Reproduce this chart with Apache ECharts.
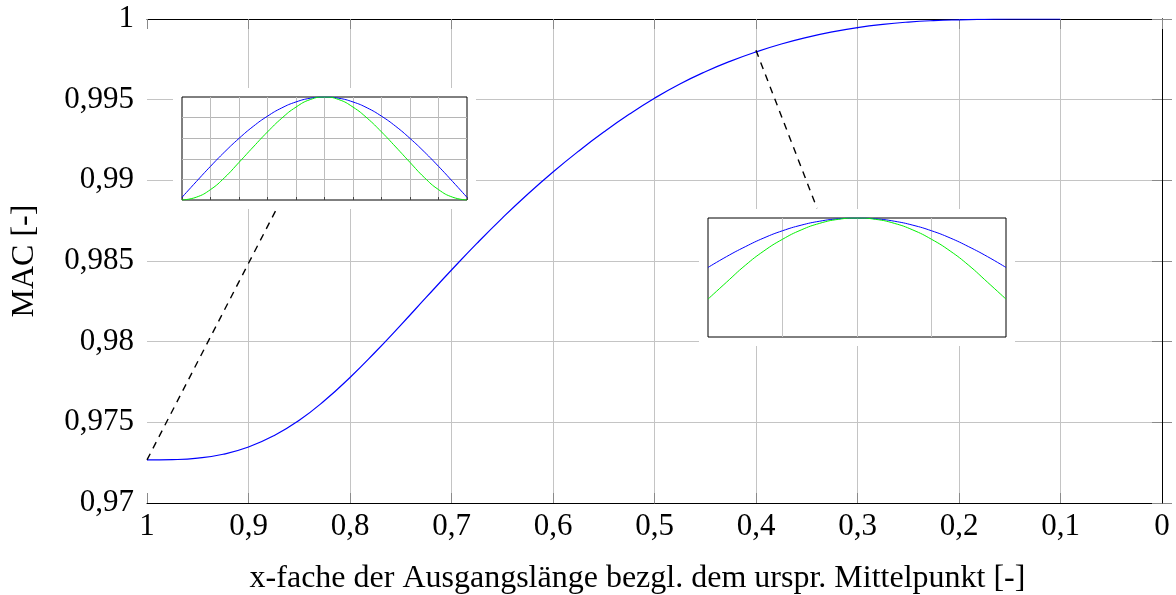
<!DOCTYPE html>
<html>
<head>
<meta charset="utf-8">
<script src="https://cdn.jsdelivr.net/npm/echarts@6/dist/echarts.min.js"></script>
<style>
  html, body { margin: 0; padding: 0; background: #fff; }
  #chart { width: 1176px; height: 595px; }
</style>
</head>
<body>
<div id="chart"></div>
<script>
// MAC über x-fache der Ausgangslänge
const xFactor = [1.0, 0.975, 0.95, 0.925, 0.9, 0.875, 0.85, 0.825, 0.8, 0.775, 0.75, 0.725, 0.7, 0.675, 0.65, 0.625, 0.6, 0.575, 0.55, 0.525, 0.5, 0.475, 0.45, 0.425, 0.4, 0.375, 0.35, 0.325, 0.3, 0.275, 0.25, 0.225, 0.2, 0.175, 0.15, 0.125, 0.1];
const macValues = [0.97267, 0.97269, 0.97278, 0.97302, 0.97347, 0.97417, 0.97513, 0.97635, 0.97778, 0.97936, 0.98103, 0.98274, 0.98444, 0.98609, 0.98766, 0.98914, 0.99052, 0.99180, 0.99299, 0.99409, 0.99509, 0.99597, 0.99673, 0.99739, 0.99796, 0.99845, 0.99886, 0.99920, 0.99947, 0.99967, 0.99981, 0.99990, 0.99995, 0.99998, 1.0, 1.0, 1.0];

const xTicks = [1, 0.9, 0.8, 0.7, 0.6, 0.5, 0.4, 0.3, 0.2, 0.1, 0];
const yTicks = [0.97, 0.975, 0.98, 0.985, 0.99, 0.995, 1];

// Eigenform-Vergleich bei x = 1
const inset1Pos = [0, 0.05, 0.1, 0.15, 0.2, 0.25, 0.3, 0.35, 0.4, 0.45, 0.5, 0.55, 0.6, 0.65, 0.7, 0.75, 0.8, 0.85, 0.9, 0.95, 1];
const inset1Blue = [0.026, 0.178, 0.327, 0.468, 0.598, 0.715, 0.814, 0.894, 0.952, 0.988, 1.0, 0.988, 0.952, 0.894, 0.814, 0.715, 0.598, 0.468, 0.327, 0.178, 0.026];
const inset1Green = [0.0, 0.027, 0.101, 0.219, 0.365, 0.515, 0.661, 0.794, 0.902, 0.975, 1.0, 0.975, 0.902, 0.794, 0.661, 0.515, 0.365, 0.219, 0.101, 0.027, 0.0];

// Eigenform-Vergleich bei x = 0,4
const inset2Pos = [0, 0.0625, 0.125, 0.1875, 0.25, 0.3125, 0.375, 0.4375, 0.5, 0.5625, 0.625, 0.6875, 0.75, 0.8125, 0.875, 0.9375, 1];
const inset2Blue = [0.814, 0.855, 0.892, 0.925, 0.952, 0.973, 0.988, 0.997, 1.0, 0.997, 0.988, 0.973, 0.952, 0.925, 0.892, 0.855, 0.814];
const inset2Green = [0.695, 0.759, 0.822, 0.876, 0.92, 0.955, 0.98, 0.995, 1.0, 0.995, 0.98, 0.955, 0.92, 0.876, 0.822, 0.759, 0.695];
const inset2GridLines = [0.8, 0.6];

// Verbindungslinien Kurvenpunkt -> Ausschnitt
const connector1 = [[1.0, 0.97267], [0.8729, 0.98816]];
const connector2 = [[0.4, 0.99806], [0.3399, 0.98827]];

const zip = (a, b) => a.map((v, i) => [v, b[i]]);
const fmt = v => String(Math.round(v * 1000) / 1000).replace('.', ',');

const FONT = 'Liberation Serif';
const GRID_GRAY = '#c4c4c4';
const TICK_GRAY = '#8a8a8a';
const TICK_SIZE = 31;
const TITLE_SIZE = 32;
const GREEN = '#00f000';

const mainLeft = 147, mainTop = 19, mainRight = 14, mainBottom = 92;
const in1 = { left: 182, top: 97, width: 285, height: 103 };
const in2 = { left: 708, top: 218, width: 298, height: 119 };
const pad = 9;

const chart = echarts.init(document.getElementById('chart'), null, { renderer: 'canvas' });

const insetGrid = pos => Object.assign({
  show: true, backgroundColor: '#fff', borderColor: '#000', borderWidth: 1, z: 10,
  containLabel: false, outerBoundsMode: 'none'
}, pos);

const option = {
  animation: false,
  backgroundColor: '#fff',
  textStyle: { fontFamily: FONT, color: '#000' },
  grid: [
    { left: mainLeft, top: mainTop, right: mainRight, bottom: mainBottom, containLabel: false, outerBoundsMode: 'none' },
    insetGrid(in1),
    insetGrid(in2)
  ],
  xAxis: [
    {
      type: 'value', gridIndex: 0, min: 0, max: 1, interval: 0.1, inverse: true, position: 'bottom',
      name: 'x-fache der Ausgangslänge bezgl. dem urspr. Mittelpunkt [-]',
      nameLocation: 'middle', nameGap: 60,
      nameTextStyle: { fontFamily: FONT, fontSize: TITLE_SIZE, color: '#000', padding: [0, 34, 0, 0] },
      axisLine: { show: true, lineStyle: { color: '#000', width: 1 } },
      axisTick: { show: true, inside: true, length: 10, lineStyle: { color: TICK_GRAY } },
      axisLabel: { show: true, margin: 8, fontFamily: FONT, fontSize: TICK_SIZE, color: '#000', formatter: fmt },
      splitLine: { show: true, showMinLine: false, showMaxLine: false, lineStyle: { color: GRID_GRAY, width: 1 } }
    },
    {
      type: 'value', gridIndex: 0, min: 0, max: 1, interval: 0.1, inverse: true, position: 'top', z: 1,
      axisLine: { show: true, lineStyle: { color: '#000', width: 1 } },
      axisTick: { show: true, inside: true, length: 10, lineStyle: { color: TICK_GRAY } },
      axisLabel: { show: false },
      splitLine: { show: false }
    },
    {
      type: 'value', gridIndex: 1, min: 0, max: 1, interval: 0.1, z: 11,
      axisLine: { show: false },
      axisTick: { show: true, inside: true, length: 3, lineStyle: { color: '#444' } },
      axisLabel: { show: false },
      splitLine: { show: true, showMinLine: false, showMaxLine: false, lineStyle: { color: '#bdbdbd', width: 1 } }
    },
    {
      type: 'value', gridIndex: 2, min: 0, max: 1, interval: 0.25, z: 11,
      axisLine: { show: false },
      axisTick: { show: false },
      axisLabel: { show: false },
      splitLine: { show: true, showMinLine: false, showMaxLine: false, lineStyle: { color: GRID_GRAY, width: 1 } }
    }
  ],
  yAxis: [
    {
      type: 'value', gridIndex: 0, min: 0.97, max: 1, interval: 0.005, position: 'left',
      name: 'MAC [-]', nameLocation: 'middle', nameGap: 106, nameRotate: 90,
      nameTextStyle: { fontFamily: FONT, fontSize: TITLE_SIZE, color: '#000' },
      axisLine: { show: true, lineStyle: { color: '#000', width: 1 } },
      axisTick: { show: true, inside: true, length: 10, lineStyle: { color: TICK_GRAY } },
      axisLabel: { show: true, margin: 13, fontFamily: FONT, fontSize: TICK_SIZE, color: '#000', formatter: fmt },
      splitLine: { show: true, showMinLine: false, showMaxLine: false, lineStyle: { color: GRID_GRAY, width: 1 } }
    },
    {
      type: 'value', gridIndex: 0, min: 0.97, max: 1, interval: 0.005, position: 'right', z: 1,
      axisLine: { show: true, lineStyle: { color: '#000', width: 1 } },
      axisTick: { show: true, inside: true, length: 10, lineStyle: { color: TICK_GRAY } },
      axisLabel: { show: false },
      splitLine: { show: false }
    },
    {
      type: 'value', gridIndex: 1, min: 0, max: 1, interval: 0.2, z: 11,
      axisLine: { show: false },
      axisTick: { show: false },
      axisLabel: { show: false },
      splitLine: { show: true, showMinLine: false, showMaxLine: false, lineStyle: { color: '#b5b5b5', width: 1 } }
    },
    {
      type: 'value', gridIndex: 2, min: 0.5525, max: 1, z: 11,
      axisLine: { show: false },
      axisTick: { show: false },
      axisLabel: { show: false },
      splitLine: { show: false }
    }
  ],
  graphic: {
    elements: [
      { type: 'rect', z: 5, silent: true,
        shape: { x: in1.left - pad, y: in1.top - pad, width: in1.width + 2 * pad, height: in1.height + 2 * pad },
        style: { fill: '#fff' } },
      { type: 'rect', z: 5, silent: true,
        shape: { x: in2.left - pad, y: in2.top - pad, width: in2.width + 2 * pad, height: in2.height + 2 * pad },
        style: { fill: '#fff' } }
    ]
  },
  series: [
    {
      type: 'line', xAxisIndex: 0, yAxisIndex: 0, z: 3,
      data: zip(xFactor, macValues), smooth: true, showSymbol: false,
      lineStyle: { color: '#0000ff', width: 1.2 }
    },
    {
      type: 'line', xAxisIndex: 0, yAxisIndex: 0, z: 3,
      data: connector1, showSymbol: false,
      lineStyle: { color: '#000', width: 1.4, type: [7, 6] }
    },
    {
      type: 'line', xAxisIndex: 0, yAxisIndex: 0, z: 3,
      data: connector2, showSymbol: false,
      lineStyle: { color: '#000', width: 1.4, type: [7, 6] }
    },
    {
      type: 'line', xAxisIndex: 2, yAxisIndex: 2, z: 12,
      data: zip(inset1Pos, inset1Blue), smooth: true, showSymbol: false,
      lineStyle: { color: '#0000ff', width: 1 }
    },
    {
      type: 'line', xAxisIndex: 2, yAxisIndex: 2, z: 12,
      data: zip(inset1Pos, inset1Green), smooth: true, showSymbol: false,
      lineStyle: { color: GREEN, width: 1 }
    },
    {
      type: 'line', xAxisIndex: 3, yAxisIndex: 3, z: 12,
      data: zip(inset2Pos, inset2Blue), smooth: true, showSymbol: false,
      lineStyle: { color: '#0000ff', width: 1 },
      markLine: {
        silent: true, symbol: 'none', label: { show: false },
        lineStyle: { color: GRID_GRAY, width: 1, type: 'solid' },
        data: inset2GridLines.map(v => ({ yAxis: v }))
      }
    },
    {
      type: 'line', xAxisIndex: 3, yAxisIndex: 3, z: 12,
      data: zip(inset2Pos, inset2Green), smooth: true, showSymbol: false,
      lineStyle: { color: GREEN, width: 1 }
    }
  ]
};

chart.setOption(option);
</script>
</body>
</html>
